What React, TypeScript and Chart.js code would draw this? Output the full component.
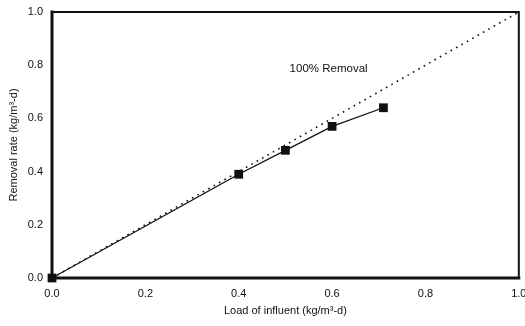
import React, { useEffect, useRef } from "react";
import { Chart, registerables } from "chart.js";

Chart.register(...registerables);

const loadX = [0, 0.4, 0.5, 0.6, 0.71];
const removalY = [0, 0.39, 0.48, 0.57, 0.64];
const idealX = [0, 1];
const idealY = [0, 1];
const xTitle = "Load of influent (kg/m³-d)";
const yTitle = "Removal rate (kg/m³-d)";
const annotationText = "100% Removal";
const annotationPos = [0.509, 0.785];

const FONT = "'Liberation Sans', Arial, sans-serif";
const INK = "#111";

const framePlugin = {
  id: "frame",
  afterDatasetsDraw(chart: any) {
    const { ctx, chartArea: a } = chart;
    ctx.save();
    ctx.strokeStyle = INK;
    ctx.lineCap = "square";
    ctx.lineWidth = 2;
    ctx.beginPath();
    ctx.moveTo(a.left, a.top);
    ctx.lineTo(a.right, a.top);
    ctx.lineTo(a.right, a.bottom);
    ctx.stroke();
    ctx.lineWidth = 3;
    ctx.beginPath();
    ctx.moveTo(a.left, a.top);
    ctx.lineTo(a.left, a.bottom);
    ctx.lineTo(a.right, a.bottom);
    ctx.stroke();
    // annotation
    const x = chart.scales.x.getPixelForValue(annotationPos[0]);
    const y = chart.scales.y.getPixelForValue(annotationPos[1]);
    ctx.fillStyle = INK;
    ctx.font = `11.5px ${FONT}`;
    ctx.textAlign = "left";
    ctx.textBaseline = "middle";
    ctx.fillText(annotationText, x, y);
    ctx.restore();
  },
};

export default function App() {
  const ref = useRef<HTMLCanvasElement>(null);
  useEffect(() => {
    document.body.style.margin = "0";
    const chart = new Chart(ref.current!, {
      type: "scatter",
      data: {
        datasets: [
          {
            label: "ideal",
            data: idealX.map((x, i) => ({ x, y: idealY[i] })),
            showLine: true,
            borderColor: INK,
            borderWidth: 1.6,
            borderDash: [1.6, 4.6],
            pointRadius: 0,
          },
          {
            label: "removal",
            data: loadX.map((x, i) => ({ x, y: removalY[i] })),
            showLine: true,
            borderColor: INK,
            borderWidth: 1.3,
            pointStyle: "rect",
            pointRadius: 6.2,
            pointBackgroundColor: INK,
            pointBorderColor: INK,
            pointBorderWidth: 0,
          },
        ],
      },
      options: {
        animation: false,
        responsive: false,
        clip: false as any,
        layout: { padding: { left: 0, right: 4, top: 12, bottom: 0 } },
        plugins: { legend: { display: false }, tooltip: { enabled: false } },
        scales: {
          x: {
            type: "linear",
            min: 0,
            max: 1,
            grid: { display: false, drawTicks: false },
            border: { display: false },
            ticks: {
              stepSize: 0.2,
              padding: 9,
              color: INK,
              font: { family: FONT, size: 11 },
              callback: (v: any) => Number(v).toFixed(1),
            },
            title: {
              display: true,
              text: xTitle,
              color: INK,
              font: { family: FONT, size: 11 },
              padding: { top: 0, bottom: 8 },
            },
            afterFit: (s: any) => {
              s.height = 48;
              s.paddingLeft = 0;
              s.paddingRight = 0;
            },
          },
          y: {
            type: "linear",
            min: 0,
            max: 1,
            grid: { display: false, drawTicks: false },
            border: { display: false },
            ticks: {
              stepSize: 0.2,
              padding: 9,
              color: INK,
              font: { family: FONT, size: 11 },
              callback: (v: any) => Number(v).toFixed(1),
            },
            title: {
              display: true,
              text: yTitle,
              color: INK,
              font: { family: FONT, size: 11 },
              padding: { top: 7, bottom: 0 },
            },
            afterFit: (s: any) => {
              s.width = 52;
              s.paddingTop = 0;
              s.paddingBottom = 0;
            },
          },
        },
      },
      plugins: [framePlugin],
    });
    return () => chart.destroy();
  }, []);
  return (
    <div style={{ width: 525, height: 326, overflow: "hidden", background: "#fff" }}>
      <canvas ref={ref} width={525} height={326} style={{ display: "block" }} />
    </div>
  );
}
